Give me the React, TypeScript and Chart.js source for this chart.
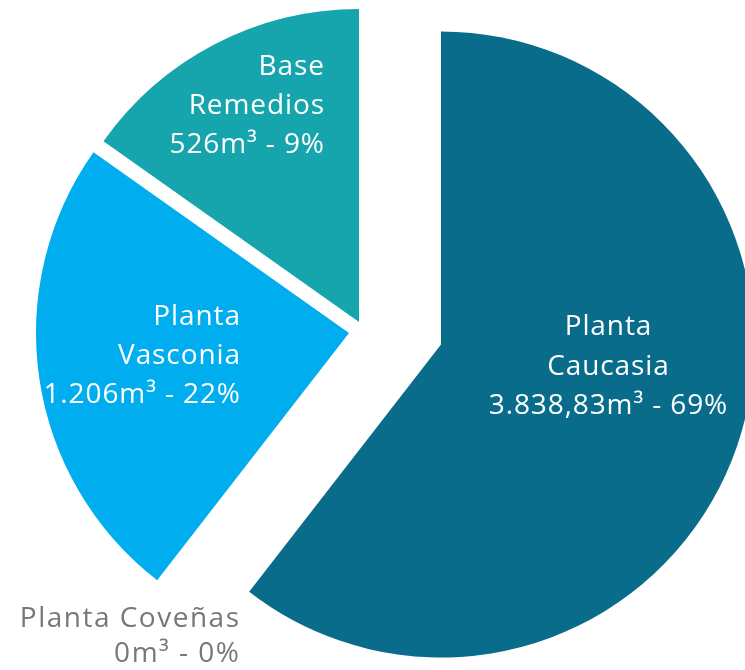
import { useEffect, useRef } from "react";
import { Chart, registerables } from "chart.js";

Chart.register(...registerables);

// ---- data ----
const categories = ["Planta Caucasia", "Planta Coveñas", "Planta Vasconia", "Base Remedios"];
// share of the circle each slice covers in the drawing (%)
const sliceShares = [60.5, 0, 24.3, 15.2];
// text shown in the labels
const nameLines = [["Planta", "Caucasia"], ["Planta Coveñas"], ["Planta", "Vasconia"], ["Base", "Remedios"]];
const volumeLabels = ["3.838,83m³", "0m³", "1.206m³", "526m³"];
const percentLabels = ["69%", "0%", "22%", "9%"];

// ---- style ----
const sliceColors = ["#086c8a", "#086c8a", "#00aeef", "#16a5ad"];
const explode = [
  [68.5, 9.5],
  [0, 0],
  [-23.5, -2],
  [-13.5, -13],
];
const labelLayout = [
  { dx: 167, dy: -9.5, align: "center", color: "#ffffff", lh: 39.5, ls: 0.9 },
  { dx: -133.5, dy: 292, align: "right", color: "#777777", lh: 35, ls: 1.5 },
  { dx: -109, dy: -8, align: "right", color: "#ffffff", lh: 39, ls: 0.9 },
  { dx: -35, dy: -247, align: "right", color: "#ffffff", lh: 39, ls: 0.9 },
];
const FONT = '400 28px "Open Sans"';

const explodePlugin = {
  id: "explodeSlices",
  afterDatasetUpdate(chart: any, args: any) {
    const meta = chart.getDatasetMeta(args.index);
    meta.data.forEach((arc: any, i: number) => {
      arc.x += explode[i][0];
      arc.y += explode[i][1];
    });
  },
};

const labelPlugin = {
  id: "sliceLabels",
  afterDatasetsDraw(chart: any) {
    const ctx = chart.ctx as CanvasRenderingContext2D;
    const meta = chart.getDatasetMeta(0);
    ctx.save();
    ctx.font = FONT;
    ctx.textBaseline = "alphabetic";
    meta.data.forEach((arc: any, i: number) => {
      const l = labelLayout[i];
      (ctx as any).letterSpacing = `${l.ls}px`;
      const lines = [...nameLines[i], `${volumeLabels[i]} - ${percentLabels[i]}`];
      ctx.fillStyle = l.color;
      ctx.textAlign = l.align as CanvasTextAlign;
      lines.forEach((t, k) => {
        // letter spacing adds trailing space; compensate for right/center alignment
        const shift = l.align === "right" ? l.ls : l.align === "center" ? l.ls / 2 : 0;
        ctx.fillText(t, arc.x + l.dx + shift, arc.y + l.dy + k * l.lh);
      });
    });
    ctx.restore();
  },
};

export default function App() {
  const ref = useRef<HTMLCanvasElement | null>(null);
  useEffect(() => {
    if (!ref.current) return;
    const chart = new Chart(ref.current, {
      type: "pie",
      data: {
        labels: categories,
        datasets: [
          {
            data: sliceShares,
            backgroundColor: sliceColors,
            borderWidth: 0,
            hoverOffset: 0,
            clip: false,
          } as any,
        ],
      },
      options: {
        responsive: false,
        animation: false,
        events: [],
        radius: 313,
        layout: { padding: 0 },
        plugins: {
          legend: { display: false },
          tooltip: { enabled: false },
          title: { display: false },
        },
      } as any,
      plugins: [explodePlugin, labelPlugin],
    });
    return () => chart.destroy();
  }, []);
  return (
    <div style={{ position: "fixed", left: 0, top: 0, width: 745, height: 670, background: "#fff" }}>
      <canvas ref={ref} width={745} height={670} />
    </div>
  );
}
